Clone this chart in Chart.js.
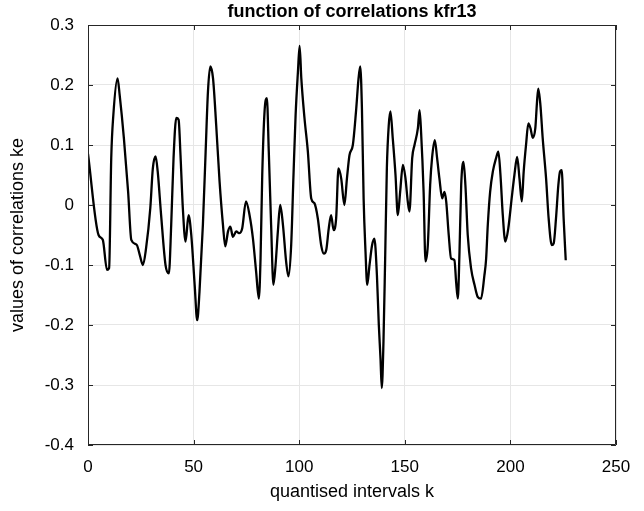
<!DOCTYPE html>
<html>
<head>
<meta charset="utf-8">
<script src="https://cdn.jsdelivr.net/npm/chart.js@4.4.1/dist/chart.umd.min.js"></script>
<style>
  html, body { margin: 0; padding: 0; background: #ffffff; }
  #wrap { width: 644px; height: 511px; }
</style>
</head>
<body>
<div id="wrap"><canvas id="c" width="644" height="511"></canvas></div>
<script>
// ---- data ----
const kValues = [
  0, 5, 7, 9, 10, 11, 12, 14, 15, 17, 19, 20.5, 23, 24.5, 26, 27.5, 29.5, 30.7, 32, 33, 34.6, 36.7,
  38.3, 39.4, 40.5, 41.8, 42.9, 43.8, 44.9, 46.2, 47.6, 48.9, 50.5, 51.7, 52.8, 54.4, 55.7, 56.8,
  57.9, 59.2, 60.7, 62.3, 63.9, 65, 66.3, 67.4, 68.6, 70.2, 71.5, 73, 74.8, 76.5, 78.1, 79.6, 80.9,
  81.7, 82.5, 83.6, 84.7, 85.6, 86.7, 87.8, 88.8, 89.9, 91, 92.3, 93.8, 94.9, 96.2, 97.3, 98.3,
  99.4, 100.2, 101, 102.5, 104.1, 105.7, 107.2, 108.8, 110.4, 111.7, 112.8, 114, 115.1, 116.3,
  117.5, 118.6, 119.9, 121.4, 122.6, 123.8, 125.4, 126.9, 128.1, 128.9, 129.7, 130.5, 131.4,
  132.2, 133.3, 134.5, 135.6, 136.8, 137.7, 138.5, 139.1, 139.9, 140.7, 141.5, 142.4, 143.2,
  144.3, 145.6, 146.7, 147.8, 149.1, 150.3, 151.4, 152.2, 153.5, 154.6, 156.2, 157, 157.7, 158.9,
  159.8, 160.9, 162, 162.9, 164.2, 165.3, 166.4, 167.7, 168.8, 169.6, 170.8, 171.9, 173.5, 174.3,
  175.1, 175.9, 176.7, 177.8, 178.7, 179.8, 181.4, 183, 184.5, 186.1, 187.7, 188.5, 189.3, 190.4,
  191.7, 193.2, 194.3, 195.3, 196.4, 197.6, 199, 200.6, 201.9, 203.2, 204.3, 205.4, 206.3, 207.4,
  208.5, 209.5, 210.6, 211.8, 212.6, 213.2, 214.2, 215.3, 216.9, 218.1, 219.6, 220.5, 221.6,
  222.7, 223.5, 224.3, 225.2, 226.2
];
const corrValues = [
  0.085, -0.05, -0.058, -0.108, -0.105, 0.078, 0.15, 0.211, 0.183, 0.111, 0.022, -0.058, -0.066, -0.083, -0.1, -0.072, -0.005, 0.061, 0.081, 0.056, -0.016, -0.1,
  -0.114, -0.033, 0.078, 0.145, 0.142, 0.083, -0.005, -0.061, -0.017, -0.05, -0.133, -0.192, -0.144, -0.033, 0.089, 0.189,
  0.231, 0.211, 0.133, 0.039, -0.033, -0.069, -0.044, -0.036, -0.053, -0.044, -0.047, -0.039, 0.006, -0.017, -0.056, -0.111, -0.156,
  -0.089, 0.05, 0.156, 0.178, 0.089, -0.033, -0.133, -0.1, -0.044, 0.0, -0.033, -0.094, -0.119, -0.067, 0.05, 0.15,
  0.222, 0.265, 0.211, 0.145, 0.089, 0.011, 0.003, -0.022, -0.067, -0.081, -0.075, -0.039, -0.017, -0.042,
  -0.022, 0.061, 0.044, 0.0, 0.044, 0.083, 0.1, 0.156, 0.211, 0.231, 0.161, 0.011, -0.078,
  -0.133, -0.1, -0.067, -0.056, -0.117, -0.2, -0.256, -0.305, -0.228, -0.089, 0.061, 0.133, 0.156,
  0.111, 0.05, -0.017, 0.022, 0.067, 0.045, 0.006, -0.011, 0.078, 0.1, 0.128, 0.158, 0.122, 0.022,
  -0.094, -0.067, 0.033, 0.078, 0.108, 0.078, 0.044, 0.011, 0.022, 0.006, -0.05, -0.089, -0.092, -0.128,
  -0.156, -0.078, 0.033, 0.072, 0.033, -0.05, -0.106, -0.133, -0.153, -0.156, -0.117, -0.09, -0.033, 0.022,
  0.056, 0.078, 0.089, 0.05, -0.017, -0.061, -0.039, 0.011, 0.05, 0.08, 0.044, 0.006, 0.056, 0.1,
  0.136, 0.128, 0.112, 0.128, 0.172, 0.194, 0.167, 0.111, 0.044, -0.022, -0.067, -0.064, -0.022,
  0.033, 0.056, 0.058, -0.022, -0.092
];
const xTicks = [0, 50, 100, 150, 200, 250];
const yTicks = [-0.4, -0.3, -0.2, -0.1, 0, 0.1, 0.2, 0.3];
const yTickLabels = ['-0.4', '-0.3', '-0.2', '-0.1', '0', '0.1', '0.2', '0.3'];
const titleText = 'function of correlations kfr13';
const xTitle = 'quantised intervals k';
const yTitle = 'values of correlations ke';

const FONT = "'Liberation Sans', Arial, Helvetica, sans-serif";
const points = kValues.map((k, i) => ({ x: k, y: corrValues[i] }));

// title centred over the plot area (MATLAB style)
const titlePlugin = {
  id: 'plotTitle',
  afterDraw(chart) {
    const { ctx, chartArea: a } = chart;
    ctx.save();
    ctx.fillStyle = '#000000';
    ctx.font = "bold 18px " + FONT;
    ctx.textAlign = 'center';
    ctx.textBaseline = 'middle';
    ctx.fillText(titleText, (a.left + a.right) / 2, 12);
    ctx.restore();
  }
};

// frame + inward tick marks (MATLAB style box)
const boxPlugin = {
  id: 'box',
  afterDraw(chart) {
    const { ctx, chartArea: a, scales } = chart;
    ctx.save();
    ctx.strokeStyle = '#262626';
    ctx.lineWidth = 1;
    ctx.beginPath();
    ctx.rect(Math.round(a.left) + 0.5, Math.round(a.top) + 0.5,
             Math.round(a.right - a.left) - 1, Math.round(a.bottom - a.top) - 1);
    ctx.stroke();
    const L = 5;
    ctx.beginPath();
    xTicks.forEach(v => {
      const x = Math.round(scales.x.getPixelForValue(v)) + 0.5;
      ctx.moveTo(x, a.bottom); ctx.lineTo(x, a.bottom - L);
      ctx.moveTo(x, a.top); ctx.lineTo(x, a.top + L);
    });
    yTicks.forEach(v => {
      const y = Math.round(scales.y.getPixelForValue(v)) + 0.5;
      ctx.moveTo(a.left, y); ctx.lineTo(a.left + L, y);
      ctx.moveTo(a.right, y); ctx.lineTo(a.right - L, y);
    });
    ctx.stroke();
    ctx.restore();
  }
};

new Chart(document.getElementById('c'), {
  type: 'line',
  data: {
    datasets: [{
      data: points,
      borderColor: '#000000',
      borderWidth: 2.3,
      pointRadius: 0,
      cubicInterpolationMode: 'monotone',
      fill: false
    }]
  },
  options: {
    responsive: false,
    animation: false,
    layout: { padding: { left: 0, right: 28, top: 25, bottom: 0 } },
    plugins: {
      legend: { display: false },
      tooltip: { enabled: false },
      title: { display: false }
    },
    scales: {
      x: {
        type: 'linear',
        min: 0, max: 250,
        afterFit(s) { s.height = 66; },
        afterBuildTicks(s) { s.ticks = xTicks.map(v => ({ value: v })); },
        ticks: {
          color: '#000000',
          font: { family: FONT, size: 17 },
          padding: 12,
          maxRotation: 0,
          callback: v => String(v)
        },
        grid: { color: '#e6e6e6', lineWidth: 1, drawTicks: false },
        border: { display: false },
        title: {
          display: true, text: xTitle, color: '#000000',
          font: { family: FONT, size: 18, lineHeight: 1.2 },
          padding: { top: 0, bottom: 8 }
        }
      },
      y: {
        type: 'linear',
        min: -0.4, max: 0.3,
        afterFit(s) { s.width = 88; },
        afterBuildTicks(s) { s.ticks = yTicks.map(v => ({ value: v })); },
        ticks: {
          color: '#000000',
          font: { family: FONT, size: 17 },
          padding: 14,
          callback: (v) => {
            const i = yTicks.findIndex(t => Math.abs(t - v) < 1e-9);
            return i >= 0 ? yTickLabels[i] : '';
          }
        },
        grid: { color: '#e6e6e6', lineWidth: 1, drawTicks: false },
        border: { display: false },
        title: {
          display: true, text: yTitle, color: '#000000',
          font: { family: FONT, size: 18, lineHeight: 1.2 },
          padding: { top: 7, bottom: 0 }
        }
      }
    }
  },
  plugins: [boxPlugin, titlePlugin]
});
</script>
</body>
</html>
